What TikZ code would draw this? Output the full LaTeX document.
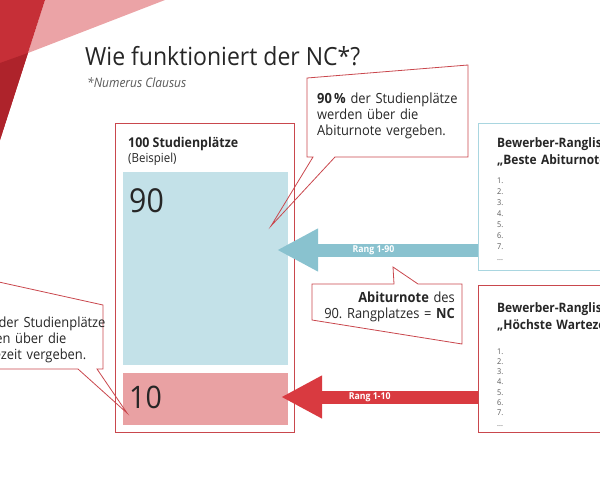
\documentclass[tikz,border=0pt]{standalone}
\usepackage{fontspec}
\setmainfont{Open Sans}[FakeStretch=0.92]
\usepackage{tikz}
\usetikzlibrary{arrows.meta,positioning}
\definecolor{ncred}{HTML}{C62F37}
\definecolor{ncdarkred}{HTML}{AE232B}
\definecolor{ncpink}{HTML}{EBA3A6}
\definecolor{ncline}{HTML}{C9474D}
\definecolor{ncblue}{HTML}{C3E1E8}
\definecolor{ncarrowblue}{HTML}{89C2CF}
\definecolor{nclightblue}{HTML}{A9D6E0}
\definecolor{ncrose}{HTML}{E9A1A3}
\definecolor{ncarrowred}{HTML}{D93A40}
\definecolor{nctext}{HTML}{262626}
\definecolor{ncgray}{HTML}{595959}
\frenchspacing

\begin{document}
\begin{tikzpicture}[x=1pt, y=-1pt,
  txt/.style={inner sep=0pt, text=nctext, align=left},
  callout/.style={draw=ncline, line width=0.8pt, line join=miter},
  listbox/.style={draw, line width=0.8pt, minimum width=160pt, minimum height=147pt,
                  anchor=north west, inner sep=0pt},
  share/.style={anchor=north west, minimum width=165pt, inner sep=0pt},
  bignum/.style={txt, anchor=base west, font=\fontsize{33}{36}\selectfont},
  rankarrow/.style={-{Triangle[length=41pt, width=40pt]}, line width=13pt},
  ranklbl/.style={text=white, font=\bfseries\fontsize{9.5}{11}\selectfont, inner sep=0pt},
  note/.style={txt, anchor=base west, text width=160pt, font=\fontsize{14}{16}\selectfont},
  listhead/.style={txt, anchor=base west, text width=200pt, font=\bfseries\fontsize{13}{17}\selectfont},
  listitems/.style={txt, anchor=base west, text width=30pt, text=ncgray, font=\fontsize{8}{11}\selectfont},
]
  \useasboundingbox (0,0) rectangle (600,480);
  \clip (0,0) rectangle (600,480);

  % slide corner
  \fill[ncpink] (45,0) -- (165,0) -- (28,53) -- cycle;
  \fill[ncred] (0,0) -- (45,0) -- (0,140) -- cycle;
  \fill[ncdarkred] (0,63) -- (28,53) -- (0,140) -- cycle;

  \node[txt, anchor=base west, font=\fontsize{25}{30}\selectfont] (title) at (85,65)
    {Wie funktioniert der NC*?};
  \node[txt, anchor=base west, text=ncgray, font=\itshape\fontsize{13}{15}\selectfont] (subtitle) at (87,87)
    {*Numerus Clausus};

  % 100 places
  \node[draw=ncline, line width=0.8pt, anchor=north west, minimum width=179pt,
        minimum height=309pt, inner sep=0pt] (slots) at (115,123) {};
  \node[txt, anchor=base west, font=\bfseries\fontsize{13.5}{16}\selectfont] (slotshead) at (128,147)
    {100 Studienplätze};
  \node[txt, anchor=base west, font=\fontsize{12.5}{15}\selectfont] (slotsex) at (128,162) {(Beispiel)};
  \node[share, fill=ncblue, minimum height=193pt] (abi) at (123,172) {};
  \node[share, fill=ncrose, minimum height=52pt] (wait) at (123,373) {};
  \node[bignum] (abinum) at (129,212) {90};
  \node[bignum, font=\fontsize{31}{34}\selectfont] (waitnum) at (129,408) {10};

  % ranking lists
  \node[listbox, draw=nclightblue] (abilist) at (478,123) {};
  \node[listhead] (abihead) at (497,147) {Bewerber-Rangliste\\„Beste Abiturnote“};
  \node[listitems] (abiitems) at (497,183) {1.\\2.\\3.\\4.\\5.\\6.\\7.\\...};
  \node[listbox, draw=ncline] (waitlist) at (478,285) {};
  \node[listhead] (waithead) at (497,312) {Bewerber-Rangliste\\„Höchste Wartezeit“};
  \node[listitems, font=\fontsize{8}{10.3}\selectfont] (waititems) at (497,354) {1.\\2.\\3.\\4.\\5.\\6.\\7.\\...};

  % arrows
  \coordinate (abitip) at (277,250);
  \coordinate (waittip) at (281,397);
  \draw[rankarrow, draw=ncarrowblue] (abilist.west |- abitip) -- node[ranklbl, pos=0.52] (abirank) {Rang 1-90} (abitip);
  \draw[rankarrow, draw=ncarrowred] (waitlist.west |- waittip) -- node[ranklbl, pos=0.55] (waitrank) {Rang 1-10} (waittip);

  % callouts
  \coordinate (abiptr) at (271,226);
  \coordinate (ncptr) at (393,267);
  \coordinate (waitptr) at (127,413);
  \draw[callout] (307,78) -- (468,65) -- (468,157) -- (335,157) -- (abiptr) -- (313,157) -- (307,157) -- cycle;
  \draw[callout] (312,284) -- (394,284) -- (ncptr) -- (418,284) -- (462,284) -- (462,344) -- (312,320) -- cycle;
  \draw[callout] (-60,269) -- (103,305) -- (103,369) -- (97,369) -- (waitptr) -- (78,369) -- (-60,369);

  \node[note] (abinote) at (317,103) {\textbf{90\,\%} der Studienplätze\\werden über die\\Abiturnote vergeben.};
  \node[note, anchor=base east, align=right] (ncnote) at (455,302)
    {\textbf{Abiturnote} des\\90. Rangplatzes = \textbf{NC}};
  \node[note] (waitnote) at (-35,327) {\textbf{10\,\%} der Studienplätze\\werden über die\\Wartezeit vergeben.};
\end{tikzpicture}
\end{document}
